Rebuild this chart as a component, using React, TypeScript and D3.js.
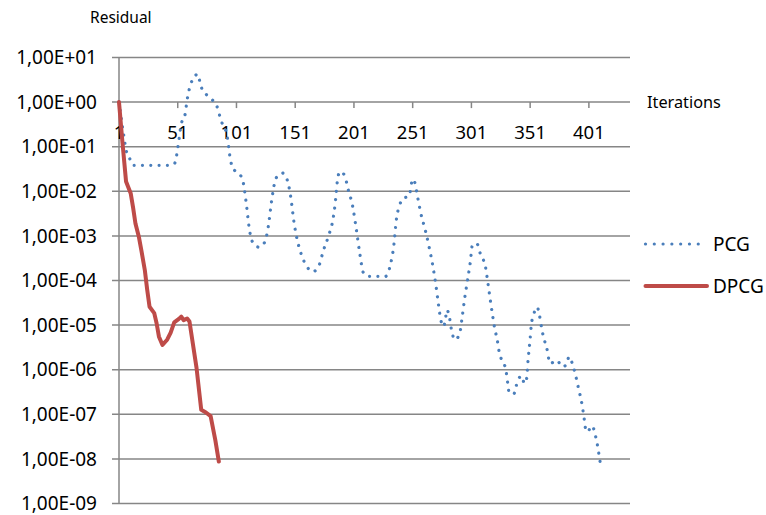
import React from 'react';
import * as d3 from 'd3';

// Residual per iteration, log-scale y axis
const yTickValues = [1e1, 1e0, 1e-1, 1e-2, 1e-3, 1e-4, 1e-5, 1e-6, 1e-7, 1e-8, 1e-9];
const yTickLabels = [
  '1,00E+01', '1,00E+00', '1,00E-01', '1,00E-02', '1,00E-03', '1,00E-04',
  '1,00E-05', '1,00E-06', '1,00E-07', '1,00E-08', '1,00E-09',
];
const xTickValues = [1, 51, 101, 151, 201, 251, 301, 351, 401];

const pcgIter = [
  1, 5, 7, 10, 13, 42, 48, 50, 52, 54, 57, 59, 62, 65, 68, 70, 72, 75, 80, 84, 88, 93, 96, 98,
  102, 106, 109, 112, 114, 120, 125, 128, 131, 133, 135, 140, 144, 147, 150, 152, 156, 161, 166,
  171, 175, 180, 183, 185, 187, 189, 193, 196, 200, 203, 206, 209, 214, 228, 232, 235, 237, 240,
  243, 248, 251, 253, 255, 258, 262, 265, 268, 271, 273, 275, 277, 279, 280, 282, 284, 287, 291,
  293, 295, 297, 300, 302, 306, 308, 311, 313, 315, 317, 319, 321, 323, 324, 327, 330, 332, 333,
  337, 339, 341, 344, 346, 348, 349, 351, 352, 354, 357, 359, 361, 363, 365, 368, 374, 378, 382,
  384, 387, 389, 392, 395, 397, 398, 400, 402, 404, 406, 408, 410, 411,
];
const pcgResidual = [
  1.0, 1.82e-1, 8.5e-2, 5.5e-2, 3.83e-2, 3.83e-2, 4.07e-2, 6.3e-2, 1.41e-1, 3.24e-1, 4.9e-1,
  1.12, 2.51, 3.6, 4.27, 2.75, 1.86, 1.51, 1.15, 8.5e-1, 3.8e-1, 1.74e-1, 4.9e-2, 3.24e-2,
  2.63e-2, 1.9e-2, 6.3e-3, 1.41e-3, 7.9e-4, 5.6e-4, 7.2e-4, 1.58e-3, 6.3e-3, 1.35e-2, 2.04e-2,
  2.57e-2, 1.86e-2, 8.1e-3, 2.0e-3, 1.0e-3, 4.0e-4, 2.04e-4, 1.58e-4,
  2.09e-4, 4.7e-4, 1.12e-3, 2.24e-3, 5.2e-3, 1.78e-2, 2.75e-2, 2.29e-2, 1.12e-2, 4.5e-3, 1.41e-3,
  4.0e-4, 1.51e-4, 1.24e-4, 1.24e-4, 2.24e-4, 6.3e-4, 2.19e-3, 5.0e-3,
  6.9e-3, 7.9e-3, 1.86e-2, 1.51e-2, 7.9e-3, 3.16e-3, 1.26e-3, 5.6e-4, 2.24e-4, 7.1e-5, 2.82e-5,
  1.29e-5, 9.3e-6, 1.38e-5, 2.19e-5, 1.66e-5, 7.9e-6, 4.7e-6, 6.5e-6,
  1.41e-5, 3.55e-5, 7.9e-5, 2.51e-4, 6.5e-4, 6.5e-4, 4.4e-4, 3.0e-4, 2.0e-4, 8.9e-5, 3.8e-5,
  1.66e-5, 7.9e-6, 4.7e-6, 3.1e-6, 1.58e-6, 1.1e-6, 4.8e-7, 3.16e-7,
  2.82e-7, 4.2e-7, 6.2e-7, 7.2e-7, 4.9e-7, 6.3e-7, 1.38e-6, 5.0e-6, 1.0e-5, 1.74e-5, 2.51e-5,
  1.62e-5, 7.9e-6, 4.7e-6, 3.16e-6, 1.38e-6, 1.62e-6, 1.17e-6, 1.29e-6,
  1.95e-6, 1.35e-6, 8.9e-7, 4.0e-7, 1.74e-7, 7.9e-8, 5.0e-8, 4.0e-8, 4.9e-8, 5.5e-8, 3.8e-8,
  2.24e-8, 1.07e-8, 7.1e-9,
];

const dpcgIter = [
  1, 4, 7, 11, 13, 15, 18, 20, 23, 25, 27, 31, 33, 35, 38, 42, 45, 48, 52, 54, 56, 59, 61, 67,
  71, 75, 79, 83, 86,
];
const dpcgResidual = [
  1.0, 1.2e-1, 1.66e-2, 8.9e-3, 4.3e-3, 1.9e-3, 9.3e-4, 4.8e-4, 1.7e-4, 6.2e-5, 2.57e-5, 1.86e-5,
  1.1e-5, 5.5e-6, 3.6e-6, 4.7e-6, 6.8e-6, 1.15e-5, 1.38e-5, 1.55e-5, 1.29e-5, 1.41e-5, 1.2e-5,
  1.1e-6, 1.26e-7, 1.1e-7, 9.1e-8, 2.63e-8, 8.7e-9,
];

const seriesNames = ['PCG', 'DPCG'];
const FONT = "'Noto Sans', sans-serif";
const BLUE = '#4A7EBB';
const RED = '#BE4B48';
const GRID = '#868686';

export default function App() {
  const width = 766;
  const height = 515;
  const left = 119;
  const right = 630;
  const top = 57.5;
  const bottom = 503.5;

  const x = d3.scaleLinear().domain([1, 436]).range([left, right]);
  const y = d3.scaleLog().domain([1e-9, 1e1]).range([bottom, top]);

  const pcgLine = d3
    .line<number>()
    .x((_, i) => x(pcgIter[i]))
    .y((d) => y(d))
    .curve(d3.curveMonotoneX);
  const dpcgLine = d3
    .line<number>()
    .x((_, i) => x(dpcgIter[i]))
    .y((d) => y(d))
    .curve(d3.curveLinear);

  const xAxisY = y(1);

  return (
    <svg
      width={width}
      height={height}
      style={{ position: 'absolute', left: 0, top: 0, background: '#fff' }}
      fontFamily={FONT}
    >
      {/* horizontal gridlines with outward ticks */}
      {yTickValues.map((v) => (
        <line
          key={`g${v}`}
          x1={left - 7}
          x2={right}
          y1={y(v)}
          y2={y(v)}
          stroke={GRID}
          strokeWidth={1.5}
        />
      ))}
      {/* value axis */}
      <line x1={left} x2={left} y1={top} y2={bottom} stroke={GRID} strokeWidth={1.5} />
      {yTickValues.map((v, i) => (
        <text
          key={`yl${v}`}
          x={97}
          y={y(v) + 6.6}
          textAnchor="end"
          fontSize={19}
          fill="#000"
        >
          {yTickLabels[i]}
        </text>
      ))}

      {/* category axis crossing at 1 */}
      {xTickValues.map((t) => (
        <line
          key={`xt${t}`}
          x1={x(t)}
          x2={x(t)}
          y1={xAxisY}
          y2={xAxisY + 6}
          stroke={GRID}
          strokeWidth={1.5}
        />
      ))}
      {xTickValues.map((t) => (
        <text key={`xl${t}`} x={x(t)} y={xAxisY + 36.5} textAnchor="middle" fontSize={18.5} fill="#000">
          {t}
        </text>
      ))}

      {/* axis titles */}
      <text x={90} y={22.7} fontSize={15.5} fill="#000">
        Residual
      </text>
      <text x={647} y={107.5} fontSize={16.3} fill="#000">
        Iterations
      </text>

      {/* series */}
      <path
        d={pcgLine(pcgResidual) || ''}
        fill="none"
        stroke={BLUE}
        strokeWidth={3.2}
        strokeLinecap="round"
        strokeDasharray="0.01 8.3"
      />
      <path
        d={dpcgLine(dpcgResidual) || ''}
        fill="none"
        stroke={RED}
        strokeWidth={4}
        strokeLinejoin="round"
        strokeLinecap="round"
      />

      {/* legend */}
      <line
        x1={645.5}
        x2={707}
        y1={244}
        y2={244}
        stroke={BLUE}
        strokeWidth={3.2}
        strokeLinecap="round"
        strokeDasharray="0.01 8.78"
      />
      <text x={713} y={251} fontSize={19} fill="#000">
        {seriesNames[0]}
      </text>
      <line x1={645.5} x2={707} y1={286} y2={286} stroke={RED} strokeWidth={4} strokeLinecap="round" />
      <text x={713} y={293} fontSize={19} fill="#000">
        {seriesNames[1]}
      </text>
    </svg>
  );
}
